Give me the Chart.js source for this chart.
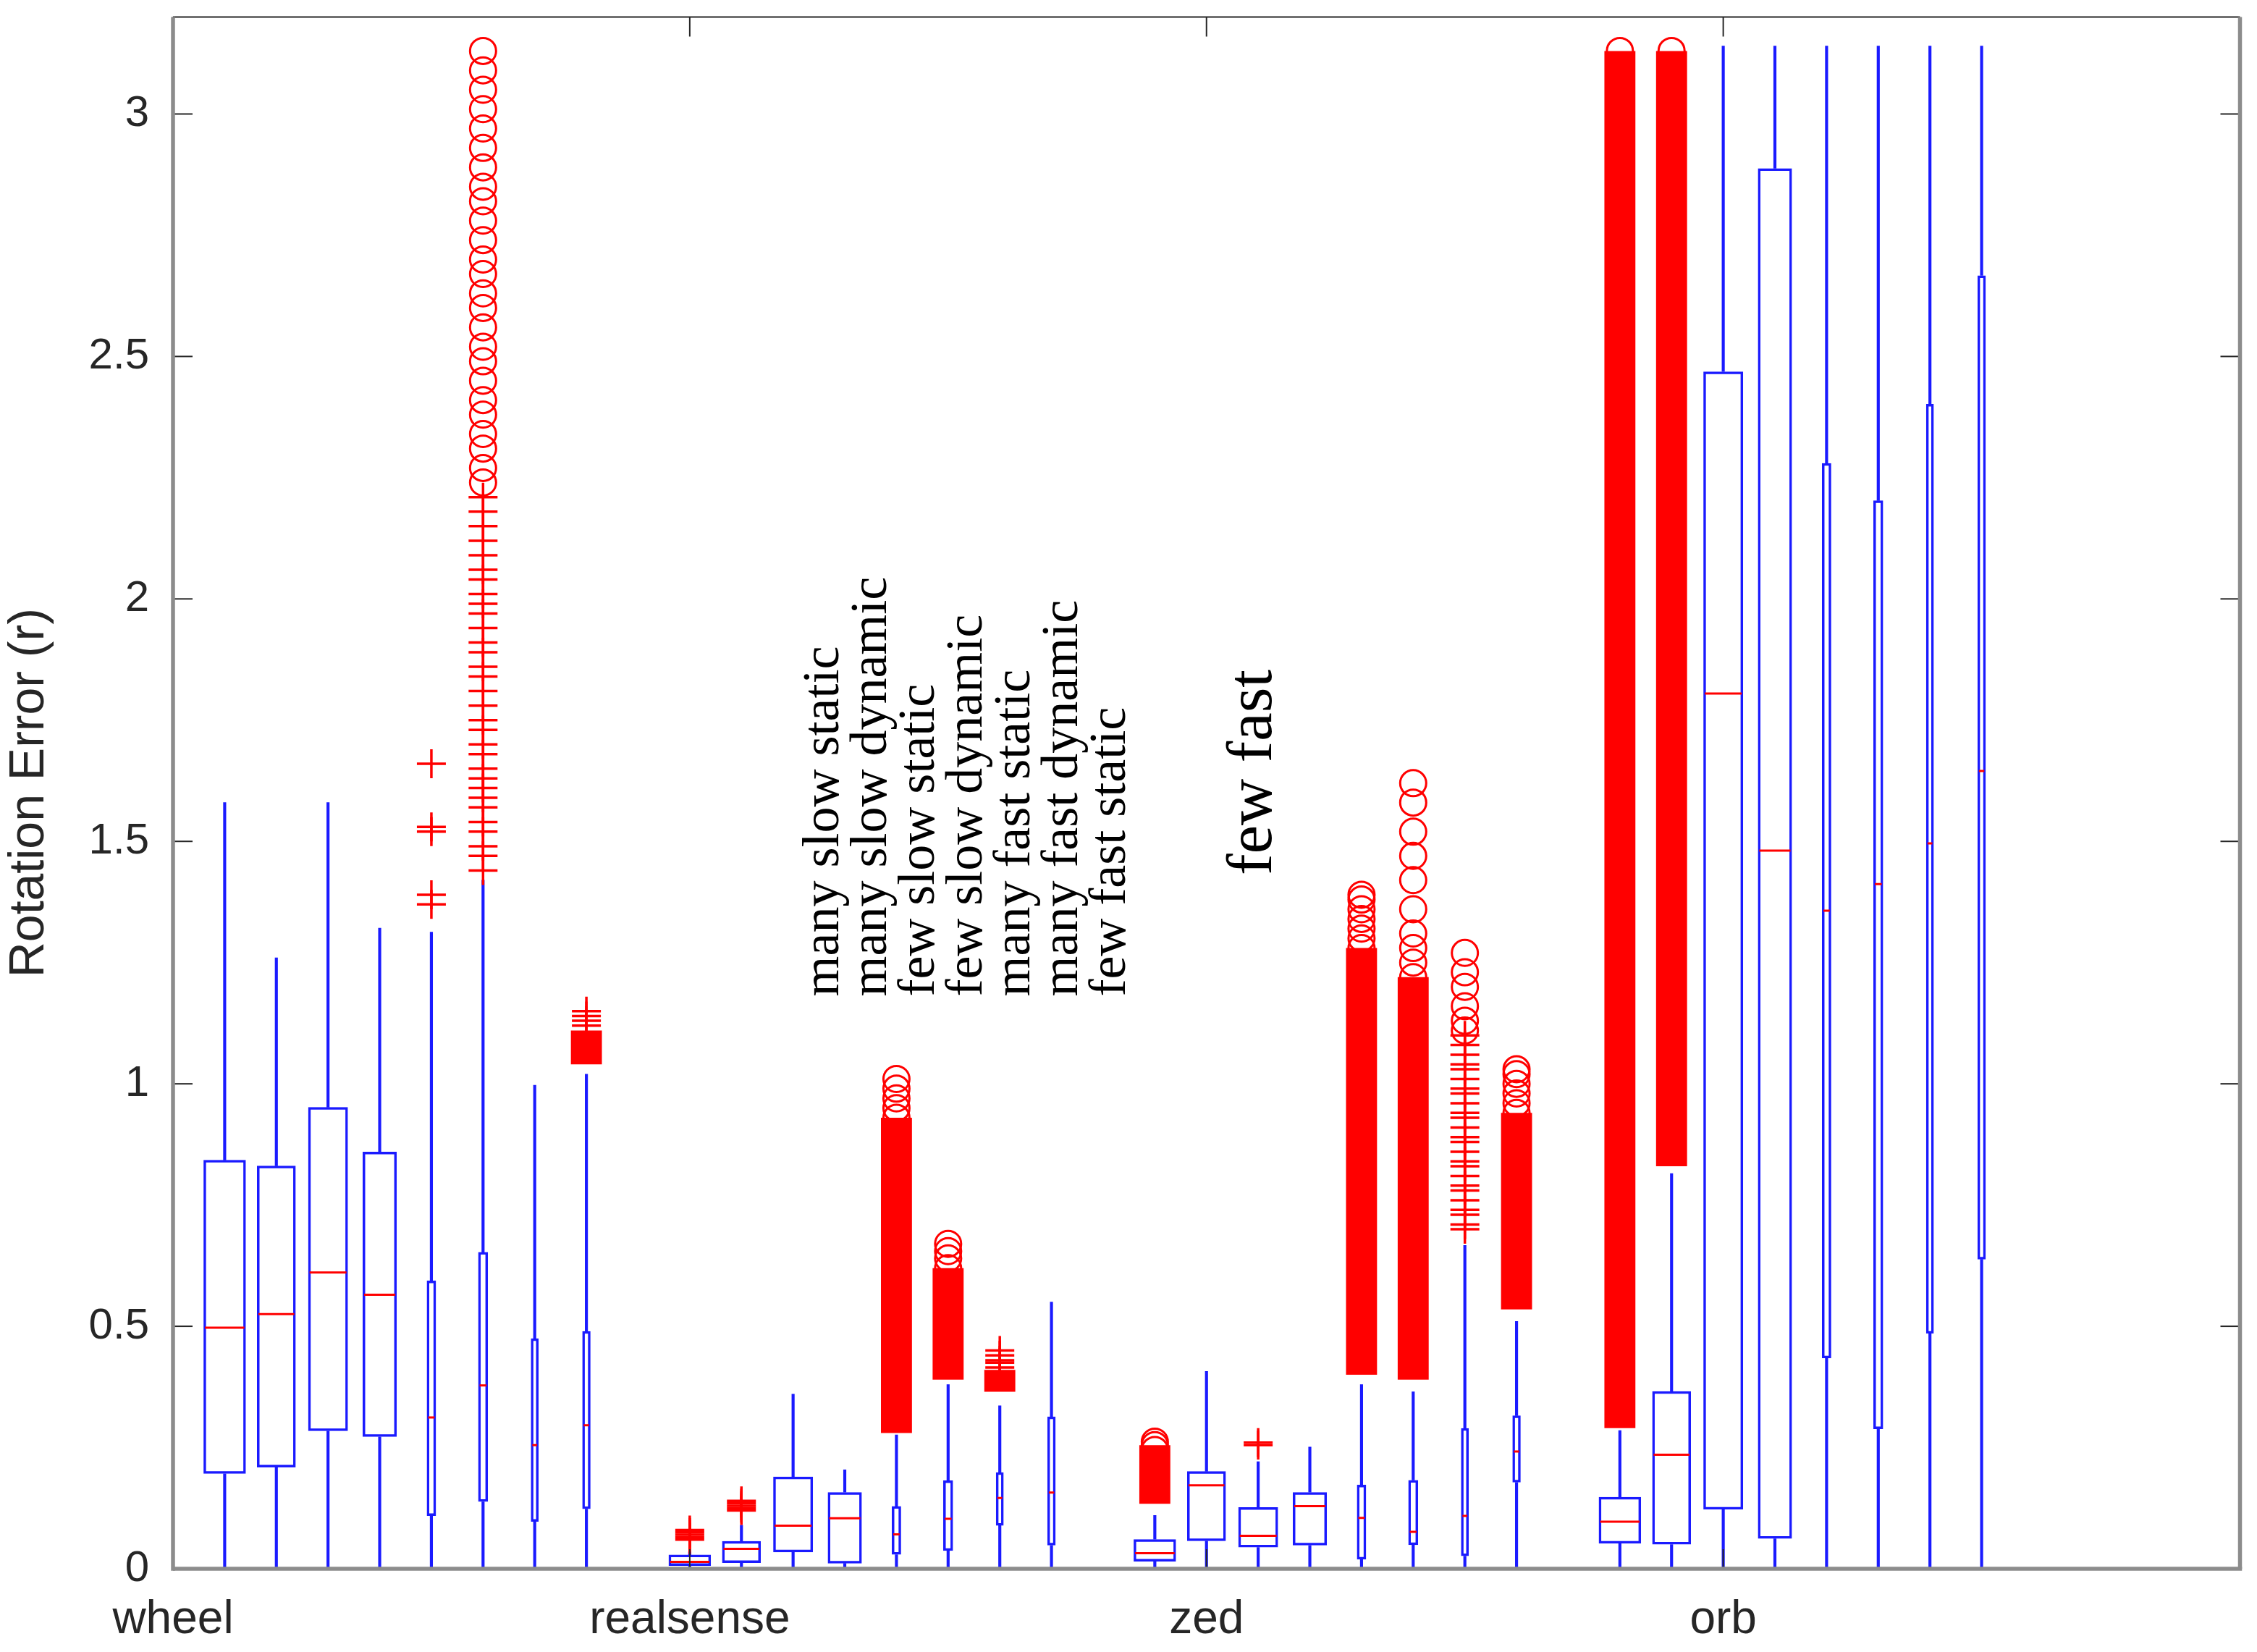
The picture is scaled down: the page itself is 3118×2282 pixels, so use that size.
<!DOCTYPE html>
<html>
<head>
<meta charset="utf-8">
<title>Rotation error</title>
<script src="https://cdn.jsdelivr.net/npm/chart.js@4.4.1/dist/chart.umd.min.js"></script>
<style>
  html, body { margin: 0; padding: 0; background: #fff; }
  #wrap { width: 3118px; height: 2282px; position: relative; }
</style>
</head>
<body>
<div id="wrap"><canvas id="myChart"></canvas></div>
<script>
// sensor groups (x tick labels) and the 8 conditions inside every group
const sensors = ['wheel', 'realsense', 'zed', 'orb'];
const sensorTicks = [0, 10, 20, 30];
const conditions = ['many slow static', 'many slow dynamic', 'few slow static', 'few slow dynamic',
    'many fast static', 'many fast dynamic', 'few fast static', 'few fast'];

// box statistics, 8 boxes per sensor: wheel, realsense, zed, orb
const whiskerLow = [
    0, 0, 0, 0, 0, 0, 0, 0,
    0, 0, 0, 0, 0, 0, 0, 0,
    0, 0, 0, 0, 0, 0, 0, 0,
    0, 0, 0, 0, 0, 0, 0, 0];
const q1 = [
    0.196, 0.209, 0.284, 0.272, 0.109, 0.138, 0.097, 0.123,
    0.006, 0.012, 0.034, 0.011, 0.029, 0.037, 0.089, 0.048,
    0.015, 0.057, 0.044, 0.048, 0.019, 0.049, 0.026, 0.178,
    0.052, 0.050, 0.122, 0.062, 0.434, 0.288, 0.485, 0.638];
const median = [
    0.497, 0.525, 0.611, 0.565, 0.312, 0.378, 0.255, 0.296,
    0.014, 0.041, 0.089, 0.104, 0.071, 0.103, 0.146, 0.157,
    0.032, 0.172, 0.068, 0.129, 0.105, 0.076, 0.109, 0.242,
    0.097, 0.235, 1.805, 1.481, 1.357, 1.412, 1.496, 1.645];
const q3 = [
    0.843, 0.831, 0.952, 0.860, 0.594, 0.653, 0.475, 0.490,
    0.029, 0.057, 0.190, 0.158, 0.129, 0.182, 0.199, 0.314,
    0.061, 0.201, 0.127, 0.158, 0.173, 0.183, 0.290, 0.316,
    0.148, 0.366, 2.469, 2.888, 2.280, 2.203, 2.402, 2.667];
const whiskerHigh = [
    1.580, 1.260, 1.580, 1.321, 1.313, 1.420, 0.997, 1.020,
    0.035, 0.090, 0.360, 0.204, 0.276, 0.380, 0.336, 0.550,
    0.110, 0.407, 0.221, 0.251, 0.380, 0.365, 0.667, 0.510,
    0.285, 0.815, 3.140, 3.140, 3.140, 3.140, 3.140, 3.140];

// outliers: [box index, values]
const plusOutliers = [
    [4, [1.37, 1.39, 1.52, 1.53, 1.66]],
    [5, [1.44, 1.47, 1.49, 1.52, 1.54, 1.57, 1.59, 1.61, 1.63, 1.65, 1.68, 1.70, 1.73, 1.75, 1.78, 1.81,
         1.84, 1.86, 1.89, 1.91, 1.94, 1.97, 1.99, 2.01, 2.04, 2.06, 2.09, 2.12, 2.15, 2.18, 2.21]],
    [7, [1.12, 1.13, 1.14, 1.15]],
    [8, [0.06, 0.065, 0.07, 0.075, 0.08]],
    [9, [0.12, 0.125, 0.13, 0.135, 0.14]],
    [14, [0.415, 0.425, 0.43, 0.44, 0.45]],
    [18, [0.255, 0.26]],
    [22, [0.70, 0.71, 0.73, 0.74, 0.76, 0.78, 0.79, 0.81, 0.83, 0.84, 0.86, 0.88, 0.89, 0.91, 0.93, 0.94,
          0.96, 0.98, 0.99, 1.01, 1.03, 1.04, 1.06, 1.08, 1.10]]
];
const circleOutliers = [
    [5, [2.24, 2.27, 2.31, 2.34, 2.38, 2.41, 2.45, 2.49, 2.52, 2.56, 2.60, 2.63, 2.67, 2.70, 2.74,
         2.78, 2.82, 2.85, 2.89, 2.93, 2.97, 3.01, 3.05, 3.09, 3.13]],
    [12, [0.93, 0.95, 0.97, 0.99, 1.01]],
    [13, [0.62, 0.64, 0.655, 0.67]],
    [16, [0.245, 0.255, 0.262]],
    [20, [1.28, 1.30, 1.32, 1.34, 1.36, 1.38, 1.39]],
    [21, [1.22, 1.25, 1.28, 1.31, 1.36, 1.42, 1.47, 1.52, 1.58, 1.62]],
    [22, [1.11, 1.13, 1.16, 1.20, 1.23, 1.27]],
    [23, [0.94, 0.96, 0.98, 1.00, 1.02, 1.03]],
    [24, [3.10, 3.13]],
    [25, [1.31, 3.10, 3.13]]
];
// runs of outliers so dense that they merge into a solid column: [box index, from, to]
const outlierBands = [
    [7, 1.04, 1.11],
    [12, 0.28, 0.93],
    [13, 0.39, 0.62],
    [14, 0.365, 0.41],
    [16, 0.134, 0.255],
    [20, 0.40, 1.28],
    [21, 0.39, 1.22],
    [23, 0.535, 0.94],
    [24, 0.29, 3.13],
    [25, 0.83, 3.13]
];

// look
const condWidth = [0.82, 0.75, 0.77, 0.66, 0.18, 0.19, 0.15, 0.16];
const blue = '#1a1aff';
const red = '#ff0000';
const sansFont = '"Liberation Sans", Arial, Helvetica, sans-serif';
const serifFont = '"Liberation Serif", "Times New Roman", serif';

// x position of box i (groups start at 1, 10, 19, 28)
function boxPos(i) {
    return Math.floor(i / 8) * 9 + 1 + (i % 8);
}

function unitPx(chart) {
    const s = chart.scales.x;
    return s.getPixelForValue(1) - s.getPixelForValue(0);
}

let lowWhiskers = [], highWhiskers = [], medians = [];
for (let i = 0; i < median.length; i++) {
    lowWhiskers.push({x: boxPos(i), y: [whiskerLow[i], q1[i]]});
    highWhiskers.push({x: boxPos(i), y: [q3[i], whiskerHigh[i]]});
    medians.push({x: boxPos(i), y: median[i]});
}

let plusPoints = [];
plusOutliers.forEach(function (o) {
    o[1].forEach(v => plusPoints.push({x: boxPos(o[0]), y: v}));
});
let circlePoints = [];
circleOutliers.forEach(function (o) {
    o[1].forEach(v => circlePoints.push({x: boxPos(o[0]), y: v}));
});
let bandBars = outlierBands.map(b => ({x: boxPos(b[0]), y: [b[1], b[2]]}));

// one box dataset per condition, so each condition gets its own box width
let boxSets = conditions.map(function (name, c) {
    let data = [];
    for (let s = 0; s < sensors.length; s++) {
        const i = s * 8 + c;
        data.push({x: boxPos(i), y: [q1[i], q3[i]]});
    }
    return {
        type: 'bar',
        label: name,
        data: data,
        backgroundColor: 'rgba(0,0,0,0)',
        borderColor: blue,
        borderWidth: 3.5,
        borderSkipped: false,
        grouped: false,
        categoryPercentage: 1,
        barPercentage: condWidth[c]
    };
});

// first dataset in the list is drawn on top
let datasets = [
    {
        type: 'scatter', label: 'outliers o', data: circlePoints,
        pointStyle: 'circle', pointRadius: 18, pointBorderWidth: 3,
        pointBorderColor: red, pointBackgroundColor: 'rgba(0,0,0,0)'
    },
    {
        type: 'scatter', label: 'outliers +', data: plusPoints,
        pointStyle: 'cross', pointRadius: 20, pointBorderWidth: 3.5,
        pointBorderColor: red
    },
    {
        type: 'bar', label: 'dense outliers', data: bandBars,
        backgroundColor: red, borderWidth: 0, grouped: false,
        categoryPercentage: 1, barPercentage: 0.6
    },
    {
        type: 'scatter', label: 'median', data: medians,
        pointStyle: 'line', pointBorderWidth: 3, pointBorderColor: red,
        pointRadius: ctx => condWidth[ctx.dataIndex % 8] * unitPx(ctx.chart) / 2 - 2
    }
].concat(boxSets).concat([
    {
        type: 'bar', label: 'upper whisker', data: highWhiskers,
        backgroundColor: blue, borderWidth: 0, grouped: false, barThickness: 3.5
    },
    {
        type: 'bar', label: 'lower whisker', data: lowWhiskers,
        backgroundColor: blue, borderWidth: 0, grouped: false, barThickness: 3.5
    }
]);

// rotated condition names written inside the plot
const noteX = 12.87, noteY = 1.18, noteStep = 66;
const bigNoteX = 21.25, bigNoteY = 1.43;

const notesPlugin = {
    id: 'notes',
    afterDatasetsDraw(chart) {
        const ctx = chart.ctx;
        const x = chart.scales.x, y = chart.scales.y;
        ctx.save();
        ctx.fillStyle = '#000';
        ctx.textAlign = 'left';
        ctx.textBaseline = 'alphabetic';
        ctx.font = '72px ' + serifFont;
        const x0 = x.getPixelForValue(noteX), y0 = y.getPixelForValue(noteY);
        for (let i = 0; i < 7; i++) {
            ctx.save();
            ctx.translate(x0 + i * noteStep, y0);
            ctx.rotate(-Math.PI / 2);
            ctx.fillText(conditions[i], 0, 0);
            ctx.restore();
        }
        ctx.font = '89px ' + serifFont;
        ctx.translate(x.getPixelForValue(bigNoteX), y.getPixelForValue(bigNoteY));
        ctx.rotate(-Math.PI / 2);
        ctx.fillText(conditions[7], 0, 0);
        ctx.restore();
    }
};

// matlab style box around the axes with inward ticks
const framePlugin = {
    id: 'frame',
    afterDraw(chart) {
        const ctx = chart.ctx;
        const a = chart.chartArea;
        const x = chart.scales.x, y = chart.scales.y;
        const tick = 27;
        function seg(x1, y1, x2, y2) {
            ctx.beginPath();
            ctx.moveTo(x1, y1);
            ctx.lineTo(x2, y2);
            ctx.stroke();
        }
        ctx.save();
        ctx.strokeStyle = '#262626';
        ctx.lineWidth = 2;
        y.ticks.forEach(function (t) {
            const py = y.getPixelForValue(t.value);
            seg(a.left, py, a.left + tick, py);
            seg(a.right - tick, py, a.right, py);
        });
        x.ticks.forEach(function (t) {
            const px = x.getPixelForValue(t.value);
            seg(px, a.top, px, a.top + tick);
            seg(px, a.bottom, px, a.bottom - tick);
        });
        seg(a.left, a.top, a.right, a.top);
        ctx.strokeStyle = '#8c8c8c';
        ctx.lineWidth = 5.5;
        seg(a.left, a.top, a.left, a.bottom + 2.75);
        seg(a.left, a.bottom, a.right + 2.75, a.bottom);
        seg(a.right, a.top, a.right, a.bottom);
        ctx.restore();
    }
};

const ctx = document.getElementById('myChart').getContext('2d');
const myChart = new Chart(ctx, {
    type: 'bar',
    data: { datasets: datasets },
    plugins: [notesPlugin, framePlugin],
    options: {
        responsive: true,
        maintainAspectRatio: false,
        animation: false,
        events: [],
        layout: { padding: { top: 19, right: 21, bottom: 0, left: 0 } },
        plugins: {
            legend: { display: false },
            tooltip: { enabled: false }
        },
        scales: {
            x: {
                type: 'linear',
                min: 0,
                max: 40,
                offset: false,
                grid: { display: false, drawTicks: false },
                border: { display: false },
                afterBuildTicks: function (s) {
                    s.ticks = sensorTicks.map(v => ({value: v}));
                },
                afterFit: function (s) {
                    s.height = 115;
                    s.paddingLeft = 0;
                    s.paddingRight = 0;
                },
                ticks: {
                    autoSkip: false,
                    maxRotation: 0,
                    padding: 33,
                    color: '#262626',
                    font: { family: sansFont, size: 64 },
                    callback: v => sensors[sensorTicks.indexOf(v)]
                }
            },
            y: {
                min: 0,
                max: 3.2,
                grid: { display: false, drawTicks: false },
                border: { display: false },
                afterFit: function (s) {
                    s.width = 239;
                    s.paddingTop = 0;
                    s.paddingBottom = 0;
                },
                ticks: {
                    stepSize: 0.5,
                    includeBounds: false,
                    padding: 33,
                    color: '#262626',
                    font: { family: sansFont, size: 60 },
                    callback: v => String(v)
                },
                title: {
                    display: true,
                    text: 'Rotation Error (r)',
                    color: '#262626',
                    font: { family: sansFont, size: 68 },
                    padding: 0
                }
            }
        }
    }
});
</script>
</body>
</html>
